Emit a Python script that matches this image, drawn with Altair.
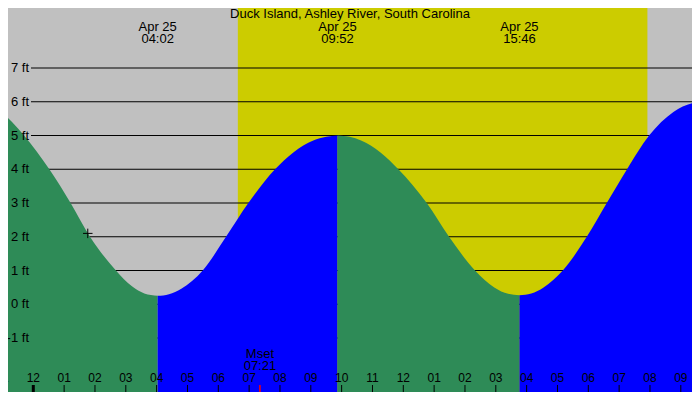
import altair as alt
import pandas as pd

TITLE = "Duck Island, Ashley River, South Carolina"

# Tide extremes shown by labels at the top
ext_dates = ["Apr 25", "Apr 25", "Apr 25", "Apr 25"]
ext_times = ["04:02", "09:52", "15:46", "22:11"]

# Tide curve readings (hours after Apr 25 00:00, height in ft), one list per half tide
fall1_t = [-1.90, -1.08, -0.69, -0.30, 0.52, 1.21, 1.84, 2.68, 3.20, 3.60, 4.033]
fall1_h = [6.10, 5.74, 5.40, 5.00, 4.00, 3.00, 2.00, 1.00, 0.53, 0.32, 0.25]
rise1_t = [4.033, 4.40, 4.80, 5.495, 6.25, 6.974, 7.84, 8.433, 9.08, 9.50, 9.867]
rise1_h = [0.25, 0.30, 0.46, 1.00, 2.00, 3.00, 4.00, 4.50, 4.85, 4.96, 5.00]
fall2_t = [9.867, 10.26, 10.63, 11.26, 11.839, 12.76, 13.484, 14.327, 14.95, 15.40, 15.767]
fall2_h = [5.00, 4.96, 4.85, 4.50, 4.00, 3.00, 2.00, 1.00, 0.50, 0.31, 0.27]
rise2_t = [15.767, 16.15, 16.55, 17.172, 17.95, 18.599, 19.257, 19.971, 20.76, 21.625, 22.183]
rise2_h = [0.27, 0.32, 0.50, 1.00, 2.00, 3.00, 4.00, 5.00, 5.70, 6.02, 6.12]

sun_times = ["06:38", "19:55"]
moon_names = ["Mset", "Mrise"]
moon_times = ["07:21", "21:55"]

now_time = "01:46"
now_ft = 2.1

ft_levels = [-1, 0, 1, 2, 3, 4, 5, 6, 7]
ft_labels = ["-1 ft", "0 ft", "1 ft", "2 ft", "3 ft", "4 ft", "5 ft", "6 ft", "7 ft"]

tick_hours = list(range(-1, 22))
tick_labels = ["11", "12", "01", "02", "03", "04", "05", "06", "07", "08", "09", "10",
               "11", "12", "01", "02", "03", "04", "05", "06", "07", "08", "09"]


def hours(s):
    h, m = s.split(":")
    return int(h) + int(m) / 60.0


W, H = 684, 384
FONT = "Liberation Sans"
x_dom = [-0.8206, 21.363]
y_dom = [-2.600, 8.778]
xscale = alt.Scale(domain=x_dom, nice=False, zero=False)
yscale = alt.Scale(domain=y_dom, nice=False, zero=False)

rows = []
for seg, (ts, hs, d) in enumerate([(fall1_t, fall1_h, "falling"), (rise1_t, rise1_h, "rising"),
                                   (fall2_t, fall2_h, "falling"), (rise2_t, rise2_h, "rising")]):
    for t, h in zip(ts, hs):
        rows.append({"seg": seg, "dir": d, "t": t, "h": h})
tide_df = pd.DataFrame(rows)

ext_df = pd.DataFrame({"t": [hours(s) for s in ext_times], "date": ext_dates, "time": ext_times})
sun_df = pd.DataFrame({"rise": [hours(sun_times[0])], "set": [hours(sun_times[1])]})
moon_df = pd.DataFrame({"t": [hours(s) for s in moon_times], "name": moon_names, "time": moon_times})
ft_df = pd.DataFrame({"ft": ft_levels, "label": ft_labels})
now_df = pd.DataFrame({"t": [hours(now_time)], "h": [now_ft]})
title_df = pd.DataFrame({"title": [TITLE]})
tick_df = pd.DataFrame({"hr": tick_hours, "label": tick_labels})

X = lambda f: alt.X(f, scale=xscale, axis=None)
Y = lambda f: alt.Y(f, scale=yscale, axis=None)

day = alt.Chart(sun_df).mark_rect(color="#CCCC00").encode(
    x=X("rise:Q"), x2="set:Q", y=alt.value(0), y2=alt.value(H))

grid = alt.Chart(ft_df).mark_rule(color="black", strokeWidth=1).encode(
    y=Y("ft:Q"), x=alt.value(23), x2=alt.value(W))

area = alt.Chart(tide_df).mark_area(interpolate="monotone", clip=True).encode(
    x=X("t:Q"),
    y=alt.Y("h:Q", scale=yscale, axis=None, stack=None),
    y2=alt.value(H),
    color=alt.Color("dir:N", scale=alt.Scale(domain=["falling", "rising"],
                                             range=["#2E8B57", "#0000FF"]), legend=None),
    detail="seg:N")

ylab = alt.Chart(ft_df).mark_text(align="right", baseline="middle", font=FONT,
                                  fontSize=13, color="black").encode(
    x=alt.value(21), y=Y("ft:Q"), text="label:N")

txt = dict(align="center", baseline="alphabetic", font=FONT, fontSize=13, color="black")

ext_date_txt = alt.Chart(ext_df).mark_text(**txt).encode(
    x=X("t:Q"), y=alt.value(23), text="date:N")
ext_time_txt = alt.Chart(ext_df).mark_text(**txt).encode(
    x=X("t:Q"), y=alt.value(35), text="time:N")

moon_name_txt = alt.Chart(moon_df).mark_text(**txt).encode(
    x=X("t:Q"), y=alt.value(H - 34), text="name:N")
moon_time_txt = alt.Chart(moon_df).mark_text(**txt).encode(
    x=X("t:Q"), y=alt.value(H - 22), text="time:N")

hour_ticks = alt.Chart(tick_df).mark_rule(color="black").encode(
    x=X("hr:Q"), y=alt.value(H - 7), y2=alt.value(H),
    strokeWidth=alt.condition("datum.hr == 0", alt.value(3), alt.value(1)))
hour_txt = alt.Chart(tick_df).mark_text(align="center", baseline="alphabetic", font=FONT,
                                        fontSize=12, color="black").encode(
    x=X("hr:Q"), y=alt.value(H - 10), text="label:N")

moon_tick = alt.Chart(moon_df).mark_rule(color="#FF0000", strokeWidth=1.5).encode(
    x=X("t:Q"), y=alt.value(H - 7), y2=alt.value(H))

title_txt = alt.Chart(title_df).mark_text(**txt).encode(
    x=alt.value(342), y=alt.value(10), text="title:N")

now_pt = alt.Chart(now_df).mark_point(shape="M-1,0L1,0M0,-1L0,1", size=90, filled=False,
                                      stroke="black", strokeWidth=1, opacity=1).encode(
    x=X("t:Q"), y=Y("h:Q"))

chart = alt.layer(day, grid, area, ylab, ext_date_txt, ext_time_txt, moon_name_txt,
                  moon_time_txt, hour_ticks, hour_txt, moon_tick, title_txt, now_pt).properties(
    width=W, height=H, autosize="none", padding=0
).configure(background="#C0C0C0").configure_view(fill="#C0C0C0", strokeWidth=0)

chart.save("out.html", embed_options={"renderer": "svg", "actions": False})
